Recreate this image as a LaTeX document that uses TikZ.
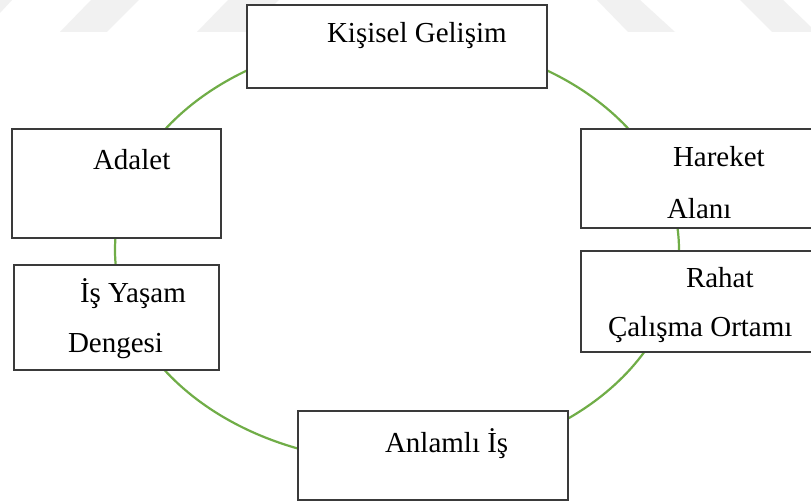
\documentclass[tikz,border=0pt]{standalone}
\usepackage{fontspec}
\setmainfont{Liberation Serif}
\definecolor{cyclegreen}{HTML}{70AD47}
\definecolor{boxline}{HTML}{3A3A3A}
\definecolor{wmark}{HTML}{F1F1F1}
\begin{document}
\begin{tikzpicture}[x=1pt,y=-1pt,
  box/.style={draw=boxline,line width=1.4pt,fill=white,rectangle,inner sep=0pt,outer sep=0pt},
  lbl/.style={anchor=base west,inner sep=0pt,outer sep=0pt,font=\fontsize{29}{34}\selectfont},
  ring/.style={draw=cyclegreen,line width=2.2pt}]
\clip (0,0) rectangle (811,502);
\fill[white] (0,0) rectangle (811,502);
% faint watermark stripes
\fill[wmark] (0,0) -- (12,0) -- (0,13) -- cycle;
\fill[wmark] (60,32) -- (107,32) -- (139,0) -- (91,0) -- cycle;
\fill[wmark] (197,32) -- (247,32) -- (279,0) -- (228,0) -- cycle;
\fill[wmark] (597,0) -- (640,0) -- (675,32) -- (628,32) -- cycle;
\fill[wmark] (740,0) -- (783,0) -- (811,27) -- (811,32) -- (772,32) -- cycle;
% green cycle
\draw[ring] (397,250) ellipse [x radius=282pt, y radius=212pt];
% boxes
\node[box,minimum width=300pt,minimum height=83pt] (kg) at (397,46.5) {};
\node[box,minimum width=209pt,minimum height=109pt] (ad) at (116.5,183.5) {};
\node[box,minimum width=205pt,minimum height=105pt] (iy) at (116.5,317.5) {};
\node[box,minimum width=259pt,minimum height=99pt] (ha) at (710.5,178.5) {};
\node[box,minimum width=259pt,minimum height=101pt] (ra) at (710.5,301.5) {};
\node[box,minimum width=270pt,minimum height=89pt] (an) at (433,455.5) {};
% labels
\node[lbl] (tkg) at (327,43) {Kişisel Gelişim};
\node[lbl] (tad) at (93,170) {Adalet};
\node[lbl] (tiy1) at (80,303) {İş Yaşam};
\node[lbl] (tiy2) at (68,353) {Dengesi};
\node[lbl] (tha1) at (673,167) {Hareket};
\node[lbl] (tha2) at (667,219) {Alanı};
\node[lbl] (tra1) at (686,288) {Rahat};
\node[lbl] (tra2) at (608,337) {Çalışma Ortamı};
\node[lbl] (tan) at (385,452) {Anlamlı İş};
\end{tikzpicture}
\end{document}
